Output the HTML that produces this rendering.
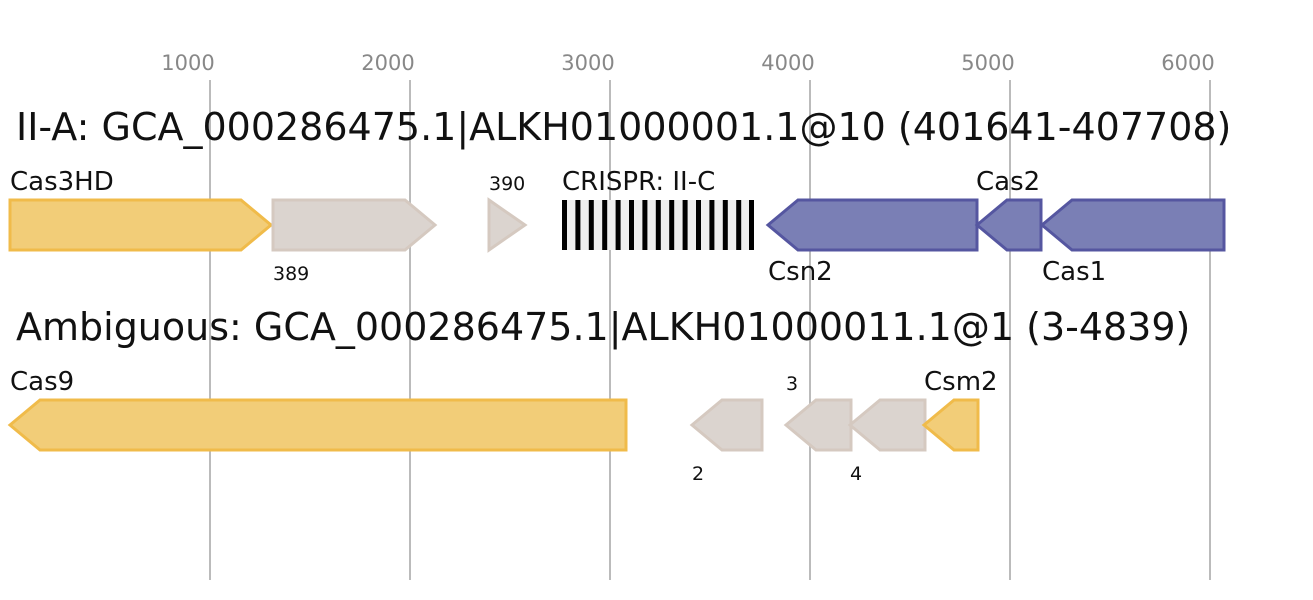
<!DOCTYPE html>
<html><head><meta charset="utf-8"><style>
html,body{margin:0;padding:0;background:#fff;}
svg{display:block;font-family:"DejaVu Sans","Liberation Sans",sans-serif;}
</style></head><body>
<svg width="1313" height="600" viewBox="0 0 1313 600" xmlns="http://www.w3.org/2000/svg">
<g stroke="#bbb" stroke-width="2">
<line x1="210" y1="80" x2="210" y2="580"/><line x1="410" y1="80" x2="410" y2="580"/>
<line x1="610" y1="80" x2="610" y2="580"/><line x1="810" y1="80" x2="810" y2="580"/>
<line x1="1010" y1="80" x2="1010" y2="580"/><line x1="1210" y1="80" x2="1210" y2="580"/>
</g>
<g fill="#888" font-size="21" text-anchor="middle">
<text x="188" y="70">1000</text><text x="388" y="70">2000</text><text x="588" y="70">3000</text>
<text x="788" y="70">4000</text><text x="988" y="70">5000</text><text x="1188" y="70">6000</text>
</g>
<text x="16" y="140" font-size="38" fill="#111">II-A: GCA_000286475.1|ALKH01000001.1@10 (401641-407708)</text>
<text x="16" y="340" font-size="38" fill="#111">Ambiguous: GCA_000286475.1|ALKH01000011.1@1 (3-4839)</text>
<g stroke-width="3" stroke-linejoin="miter">
<polygon points="10,200 241,200 271,225 241,250 10,250" fill="#f2cd78" stroke="#f0bb4a"/>
<polygon points="273,200 405,200 435,225 405,250 273,250" fill="#dbd4cf" stroke="#d5c9c0"/>
<polygon points="489,200 525,225 489,250" fill="#dbd4cf" stroke="#d5c9c0"/>
<polygon points="768,225 798,200 977,200 977,250 798,250" fill="#7a7fb5" stroke="#5556a0"/>
<polygon points="977,225 1007,200 1041,200 1041,250 1007,250" fill="#7a7fb5" stroke="#5556a0"/>
<polygon points="1042,225 1072,200 1224,200 1224,250 1072,250" fill="#7a7fb5" stroke="#5556a0"/>
<polygon points="10,425 40,400 626,400 626,450 40,450" fill="#f2cd78" stroke="#f0bb4a"/>
<polygon points="692,425 722,400 762,400 762,450 722,450" fill="#dbd4cf" stroke="#d5c9c0"/>
<polygon points="786,425 816,400 851,400 851,450 816,450" fill="#dbd4cf" stroke="#d5c9c0"/>
<polygon points="850,425 880,400 925,400 925,450 880,450" fill="#dbd4cf" stroke="#d5c9c0"/>
<polygon points="924,425 954,400 978,400 978,450 954,450" fill="#f2cd78" stroke="#f0bb4a"/>
</g>
<rect x="562" y="200" width="192" height="50" fill="#eee"/>
<g fill="#000">
<rect x="562" y="200" width="5" height="50"/><rect x="575.4" y="200" width="5" height="50"/>
<rect x="588.8" y="200" width="5" height="50"/><rect x="602.2" y="200" width="5" height="50"/>
<rect x="615.6" y="200" width="5" height="50"/><rect x="629" y="200" width="5" height="50"/>
<rect x="642.4" y="200" width="5" height="50"/><rect x="655.8" y="200" width="5" height="50"/>
<rect x="669.2" y="200" width="5" height="50"/><rect x="682.6" y="200" width="5" height="50"/>
<rect x="696" y="200" width="5" height="50"/><rect x="709.4" y="200" width="5" height="50"/>
<rect x="722.8" y="200" width="5" height="50"/><rect x="736.2" y="200" width="5" height="50"/>
<rect x="749" y="200" width="5" height="50"/>
</g>
<g fill="#111" font-size="26">
<text x="10" y="190">Cas3HD</text>
<text x="562" y="190">CRISPR: II-C</text>
<text x="976" y="190">Cas2</text>
<text x="768" y="280">Csn2</text>
<text x="1042" y="280">Cas1</text>
<text x="10" y="390">Cas9</text>
<text x="924" y="390">Csm2</text>
</g>
<g fill="#111" font-size="19">
<text x="273" y="280">389</text>
<text x="489" y="190">390</text>
<text x="692" y="480">2</text>
<text x="786" y="390">3</text>
<text x="850" y="480">4</text>
</g>
</svg>
</body></html>
